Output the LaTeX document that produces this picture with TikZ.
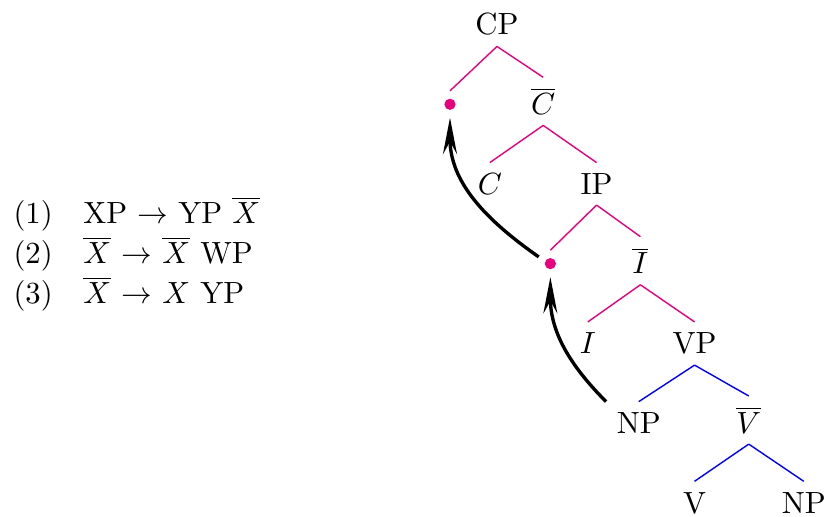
\documentclass[tikz,border=0pt,11pt]{standalone}
\usetikzlibrary{positioning, arrows.meta}
\definecolor{xpink}{RGB}{230,0,126}
\tikzset{
	pinkedge/.style={draw=xpink, line width=0.5pt}, % ramas de CP e IP
	blueedge/.style={draw=blue, line width=0.5pt}, % ramas de VP
	trace/.style={circle, fill=xpink, inner sep=0pt, minimum size=4pt, outer sep=2.8pt}, % huella
	move/.style={-{Stealth[length=13pt, width=5pt, inset=4.5pt]}, very thick} % movimiento
}

\begin{document}
\begin{tikzpicture}
	\useasboundingbox (0,0) rectangle (10.355,-6.477);
	% reglas
	\node[anchor=west, inner sep=0pt] (rules) at (0.163,-3.21) {\begin{tabular}{@{}l@{\quad}l@{}}
		(1) & XP $\rightarrow$ YP $\overline{X}$\\[0.8pt]
		(2) & $\overline{X}$ $\rightarrow$ $\overline{X}$ WP\\[0.8pt]
		(3) & $\overline{X}$ $\rightarrow$ $X$ YP
	\end{tabular}};
	% arbol
	\node[anchor=base] (cp) at (6.238,-0.439) {CP};
	\node[trace, below left=0.87cm and 0.59cm of cp.base, anchor=center] (t1) {};
	\node[below right=1cm and 0.58cm of cp.base, anchor=base] (cbar) {$\overline{C}$};
	\node[below left=1cm and 0.67cm of cbar.base, anchor=base] (c) {$C$};
	\node[below right=1cm and 0.67cm of cbar.base, anchor=base] (ip) {IP};
	\node[trace, below left=0.87cm and 0.58cm of ip.base, anchor=center] (t2) {};
	\node[below right=1cm and 0.55cm of ip.base, anchor=base] (ibar) {$\overline{I}$};
	\node[below left=1cm and 0.66cm of ibar.base, anchor=base] (i) {$I$};
	\node[below right=1cm and 0.68cm of ibar.base, anchor=base] (vp) {VP};
	\node[below left=1cm and 0.70cm of vp.base, anchor=base] (np1) {NP};
	\node[below right=1cm and 0.68cm of vp.base, anchor=base] (vbar) {$\overline{V}$};
	\node[below left=1cm and 0.68cm of vbar.base, anchor=base] (v) {V};
	\node[below right=1cm and 0.69cm of vbar.base, anchor=base] (np2) {NP};
	\draw[pinkedge] (cp.south) -- (t1.north)
		(cp.south) -- (cbar.north)
		(cbar.south) -- (c.north)
		(cbar.south) -- (ip.north)
		(ip.south) -- (t2.north)
		(ip.south) -- (ibar.north)
		(ibar.south) -- (i.north)
		(ibar.south) -- (vp.north);
	\draw[blueedge] (vp.south) -- (np1.north)
		(vp.south) -- (vbar.north)
		(vbar.south) -- (v.north)
		(vbar.south) -- (np2.north);
	\draw[move] (np1.north west) to[out=135, in=-90] (t2);
	\draw[move] (t2.150) to[out=145, in=-90] (t1);
\end{tikzpicture}
\end{document}
